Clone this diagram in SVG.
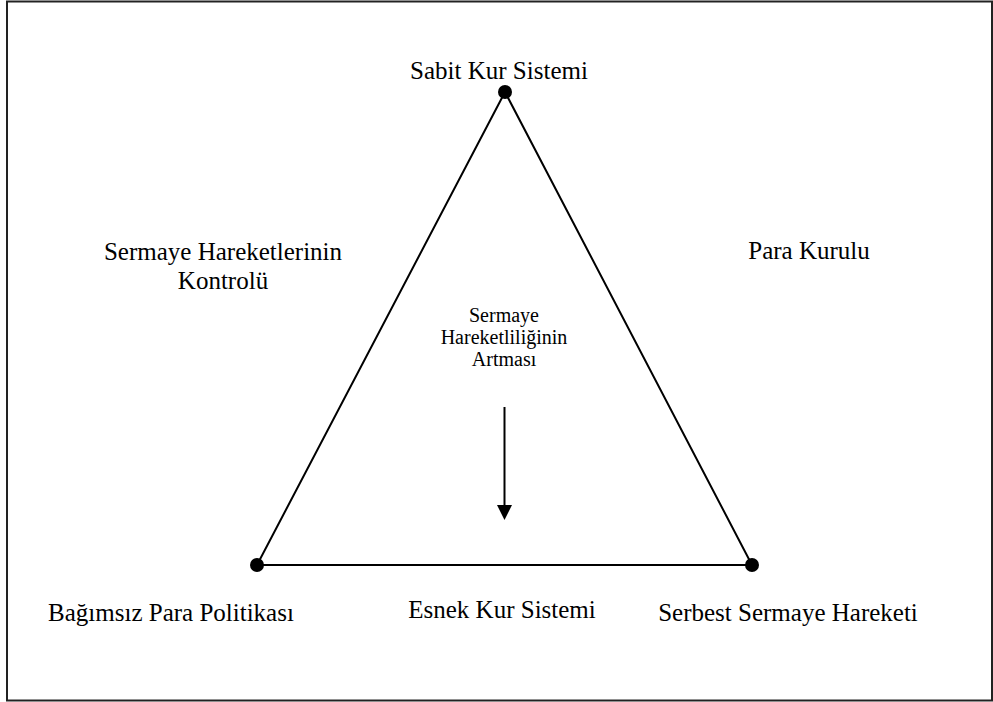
<svg xmlns="http://www.w3.org/2000/svg" width="993" height="702" viewBox="0 0 993 702">
<defs>
<style>
.lbl{font-family:"Liberation Serif","Times New Roman",serif;font-size:25px;fill:#000;text-anchor:middle}
.sm{font-size:20px}
.edge{stroke:#000;stroke-width:2;fill:none}
</style>
</defs>
<rect width="993" height="702" fill="#fff"/>
<rect x="7" y="1.5" width="985" height="699" fill="none" stroke="#222" stroke-width="2"/>
<g id="connectors">
<path class="edge" d="M505,92 L257,565 L752,565 Z"/>
<line x1="504.5" y1="407" x2="504.5" y2="506" stroke="#000" stroke-width="2"/>
<path d="M497,505 L512,505 L504.5,520 Z" fill="#000"/>
</g>
<g id="node-sabit">
<circle cx="505" cy="92" r="7" fill="#000"/>
<text class="lbl" x="499" y="79">Sabit Kur Sistemi</text>
</g>
<g id="node-bagimsiz">
<circle cx="257" cy="565" r="7" fill="#000"/>
<text class="lbl" x="171" y="621">Bağımsız Para Politikası</text>
</g>
<g id="node-serbest">
<circle cx="752" cy="565" r="7" fill="#000"/>
<text class="lbl" x="788" y="621">Serbest Sermaye Hareketi</text>
</g>
<g id="label-kontrol">
<text class="lbl" x="223" y="260">Sermaye Hareketlerinin</text>
<text class="lbl" x="223" y="289">Kontrolü</text>
</g>
<g id="label-para-kurulu">
<text class="lbl" x="809" y="259">Para Kurulu</text>
</g>
<g id="label-esnek">
<text class="lbl" x="502" y="618">Esnek Kur Sistemi</text>
</g>
<g id="label-center">
<text class="lbl sm" x="504" y="322">Sermaye</text>
<text class="lbl sm" x="504" y="344">Hareketliliğinin</text>
<text class="lbl sm" x="504" y="366">Artması</text>
</g>
</svg>
